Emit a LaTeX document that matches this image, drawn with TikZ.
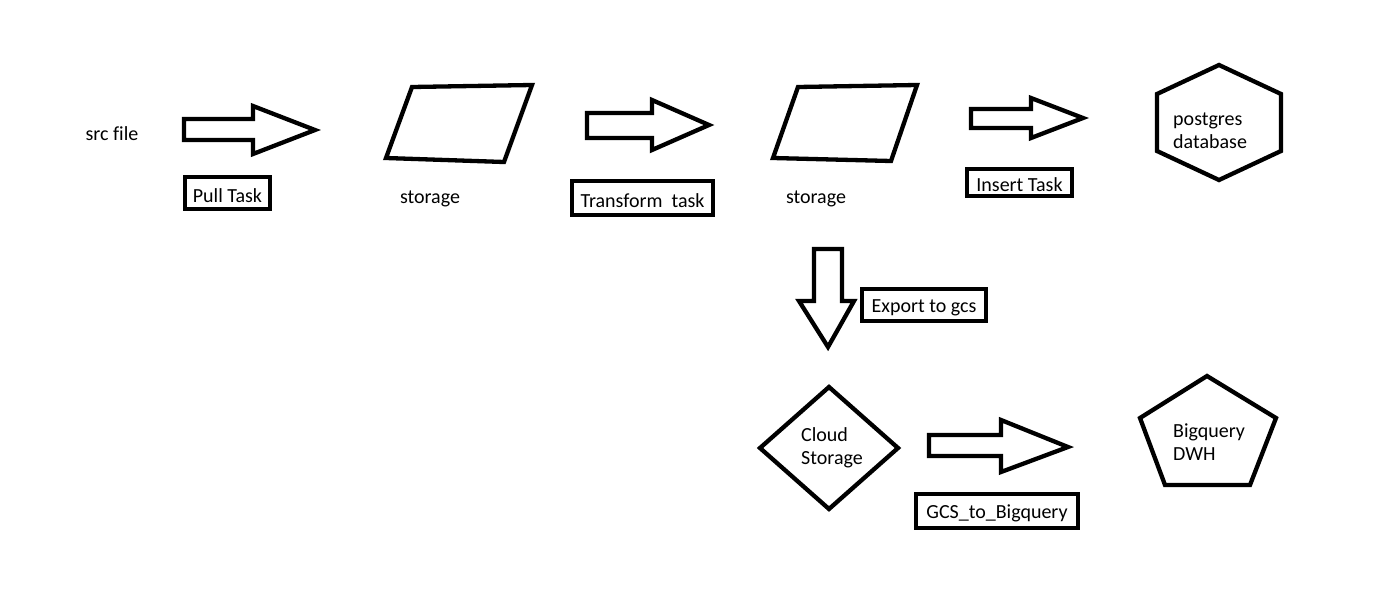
\documentclass[tikz,border=0pt]{standalone}
\usepackage{fontspec}
\setmainfont[Ligatures=NoCommon]{Carlito}
\newcommand{\lowertxt}[1]{\raisebox{-2.5pt}[\height][\depth]{#1}}
\begin{document}
\begin{tikzpicture}[x=1pt,y=-1pt,
  shp/.style={draw=black,line width=4.3pt,line join=miter},
  lbl/.style={font=\fontsize{20}{23}\selectfont,inner sep=0pt},
  mlbl/.style={lbl,align=left,anchor=west},
  taskbox/.style={lbl,draw=black,line width=4.3pt,inner sep=0pt}]
\useasboundingbox[fill=white] (0,0) rectangle (1398,589);

% block arrows
\draw[shp] (184,119) -- (253,119) -- (253,106) -- (315,130) -- (253,154) -- (253,140) -- (184,140) -- cycle;
\draw[shp] (587,113) -- (652,113) -- (652,100) -- (709,125) -- (652,150) -- (652,138) -- (587,138) -- cycle;
\draw[shp] (971,109) -- (1031,109) -- (1031,98) -- (1083,118) -- (1031,138) -- (1031,128) -- (971,128) -- cycle;
\draw[shp] (814,249) -- (842,249) -- (842,301) -- (854,301) -- (828,347) -- (799,301) -- (814,301) -- cycle;
\draw[shp] (929,435) -- (1001,435) -- (1001,420) -- (1068,447) -- (1001,472) -- (1001,456) -- (929,456) -- cycle;

% storage parallelograms
\draw[shp] (412,87) -- (532,85) -- (504,162) -- (386,158) -- cycle;
\draw[shp] (798,87) -- (917,85) -- (891,161) -- (773,158) -- cycle;

% postgres hexagon
\draw[shp] (1219,65) -- (1281,94) -- (1281,151) -- (1219,180) -- (1157,151) -- (1157,94) -- cycle;

% cloud storage diamond
\draw[shp] (829,387) -- (898,448) -- (829,509) -- (760,448) -- cycle;

% bigquery pentagon
\draw[shp] (1207,376) -- (1276,418) -- (1250,485) -- (1165,485) -- (1140,418) -- cycle;

% texts
\node[lbl] (src) at (112,134) {src file};
\node[lbl] (st1) at (430,199) {storage};
\node[lbl] (st2) at (816,199) {storage};
\node[mlbl] (pg) at (1173,131) {postgres\\database};
\node[mlbl] (cs) at (801,448) {Cloud\\Storage};
\node[mlbl] (bq) at (1173,442) {Bigquery\\DWH};

% task boxes
\node[taskbox,minimum width=85pt,minimum height=32pt] (pull) at (227.5,193) {\lowertxt{Pull Task}};
\node[taskbox,minimum width=141pt,minimum height=34pt] (trans) at (642.5,198) {\lowertxt{Transform\ \ task}};
\node[taskbox,minimum width=105pt,minimum height=27pt] (ins) at (1019.5,182.5) {\lowertxt{Insert Task}};
\node[taskbox,minimum width=124pt,minimum height=32pt] (exp) at (924,305) {\lowertxt{Export to gcs}};
\node[taskbox,minimum width=162pt,minimum height=34pt] (gcs) at (997,511) {\lowertxt{GCS\_to\_Bigquery}};
\end{tikzpicture}
\end{document}
